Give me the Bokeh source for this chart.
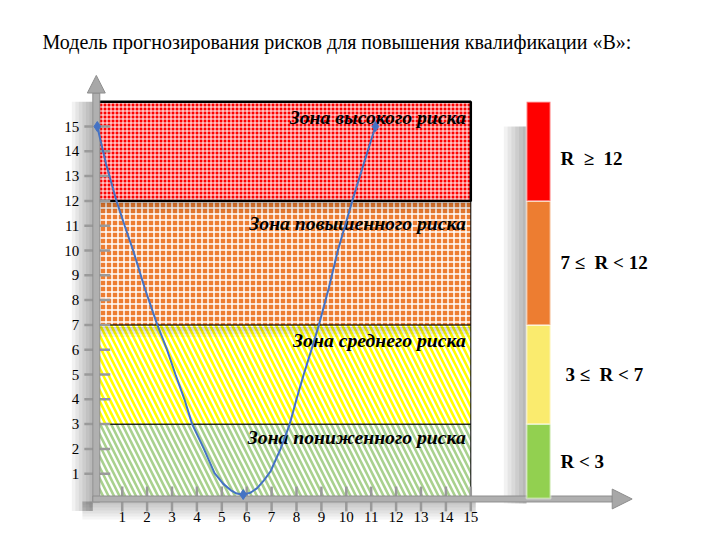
from bokeh.plotting import figure
from bokeh.models import ColumnDataSource
from bokeh.core.properties import value
from bokeh.embed import file_html
from bokeh.resources import INLINE

# ---------------- data ----------------
title_text = "Модель прогнозирования рисков для повышения квалификации «В»:"

zone_names = ["Зона пониженного риска", "Зона среднего риска",
              "Зона повышенного риска", "Зона высокого риска"]
zone_bottoms = [0, 3, 7, 12]
zone_tops = [3, 7, 12, 16]
zone_x_end = 15

NB = "\u00a0"
legend_texts = ["R < 3", "3 ≤" + NB + NB + "R < 7", "7 ≤" + NB + NB + "R < 12",
                "R" + NB + NB + "≥" + NB + NB + "12"]

x_tick_values = list(range(1, 16))
x_tick_labels = [str(v) for v in x_tick_values]
y_tick_values = list(range(1, 16))
y_tick_labels = [str(v) for v in y_tick_values]

curve_x = [0, 0.35, 0.77, 1.1, 1.44, 1.9, 2.41, 2.8, 3.14, 3.5, 3.81, 4.28, 4.71,
           5.05, 5.35, 5.6, 5.86, 6.15, 6.42, 6.7, 6.96, 7.36, 7.73,
           8.0, 8.29, 8.6, 8.90, 9.3, 9.66, 9.95, 10.24, 10.7, 11.17]
curve_y = [15, 13.5, 12, 11, 10, 8.5, 7, 6, 5, 4, 3, 2, 1.02,
           0.6, 0.34, 0.2, 0.16, 0.23, 0.42, 0.74, 1.1, 2, 3,
           4, 5, 6, 7, 8.5, 10, 11, 12, 13.5, 15]
marker_x = [0, 5.86, 11.17]
marker_y = [15, 0.16, 15]

# ---------------- styles ----------------
SERIF = value("Liberation Serif")
zone_fill = ["#FFFFFF", "#FFFFFF", "#ED7D31", "#FF0000"]
zone_hatch = ["left_diagonal_line", "left_diagonal_line", "cross", "cross"]
zone_hatch_color = ["#A9D18E", "#FFFF00", "#FFFFFF", "#FFFFFF"]
zone_hatch_scale = [11, 11, 6, 4]
zone_hatch_weight = [2.6, 2.6, 1.5, 1]
zone_line_width = [1, 1, 1, 2.5]
legend_colors = ["#92D050", "#FAEB6E", "#ED7D31", "#FF0000"]
legend_label_yoff = [0, 0, 0, 7]
legend_label_xoff = [0, 5, 0, 0]
zone_label_yoff = [-2, 0, 7, 0]

W, H = 684, 540
x0_px, y0_px = 96.8, 498.0       # pixel position of data origin in the canvas
sx, sy = 24.9, 24.8               # pixels per unit

p = figure(width=W, height=H, output_backend="svg", toolbar_location=None,
           x_range=(-x0_px / sx, (W - x0_px) / sx),
           y_range=((y0_px - H) / sy, y0_px / sy),
           x_axis_location=None, y_axis_location=None,
           min_border=0, outline_line_color=None)
p.xgrid.visible = False
p.ygrid.visible = False
p.background_fill_color = "white"
p.border_fill_color = "white"

px = 1.0 / sx   # one pixel in x data units
py = 1.0 / sy   # one pixel in y data units

# ---------------- shadows ----------------
for k in range(1, 7):
    p.quad(left=-0.18 - k * 3.5 * px, right=-0.18, bottom=-0.5, top=16.0,
           fill_color="black", fill_alpha=0.05, line_color=None)
    p.quad(left=-0.6, right=zone_x_end + 0.2, bottom=-0.12 - k * 3 * py, top=-0.12,
           fill_color="black", fill_alpha=0.04, line_color=None)
    p.quad(left=17.24 - k * 3.8 * px, right=17.24, bottom=-0.2, top=15.0,
           fill_color="black", fill_alpha=0.05, line_color=None)

# ---------------- zones ----------------
for i in range(len(zone_names)):
    p.quad(left=0, right=zone_x_end, bottom=zone_bottoms[i], top=zone_tops[i],
           fill_color=zone_fill[i], hatch_pattern=zone_hatch[i],
           hatch_color=zone_hatch_color[i], hatch_scale=zone_hatch_scale[i],
           hatch_weight=zone_hatch_weight[i],
           line_color="black", line_width=zone_line_width[i])

for b in [12, 7]:
    for k in range(1, 5):
        p.quad(left=0.1, right=zone_x_end, bottom=b - k * 3 * py, top=b - 2 * py,
               fill_color="black", fill_alpha=0.05, line_color=None)

zone_src = ColumnDataSource(dict(
    x=[zone_x_end - 0.2] * len(zone_names),
    y=[t - 0.6 for t in zone_tops],
    text=zone_names, yoff=zone_label_yoff))
p.text(x="x", y="y", text="text", source=zone_src, y_offset="yoff",
       text_font=SERIF, text_font_style="bold italic", text_font_size="19.7px",
       text_align="right", text_baseline="middle", text_color="black")

# ---------------- axes ----------------
AX_TOP = 16.35
X_END = 20.68
tick_col = "#9A9A9A"
p.segment(x0=[-0.52] * len(y_tick_values), x1=[0.52] * len(y_tick_values),
          y0=y_tick_values, y1=y_tick_values, line_color=tick_col, line_width=2.5)
p.segment(x0=x_tick_values, x1=x_tick_values,
          y0=[0.48] * len(x_tick_values), y1=[-0.52] * len(x_tick_values),
          line_color=tick_col, line_width=2.5)

p.quad(left=-0.18, right=0.1, bottom=-0.14, top=AX_TOP,
       fill_color="#B0B0B0", line_color="#8E8E8E", line_width=1)
p.quad(left=-0.18, right=X_END, bottom=-0.14, top=0.1,
       fill_color="#B0B0B0", line_color="#8E8E8E", line_width=1)
p.patch(x=[-0.4, 0.32, -0.04], y=[AX_TOP, AX_TOP, 17.06],
        fill_color="#A8A8A8", line_color="#8E8E8E", line_width=1)
p.patch(x=[X_END, X_END, 21.48], y=[-0.42, 0.38, -0.02],
        fill_color="#A8A8A8", line_color="#8E8E8E", line_width=1)

ytick_src = ColumnDataSource(dict(x=[-0.72] * len(y_tick_values),
                                  y=y_tick_values, text=y_tick_labels))
p.text(x="x", y="y", text="text", source=ytick_src, text_font=SERIF,
       text_font_size="15px", text_align="right", text_baseline="middle",
       text_color="black")
xtick_src = ColumnDataSource(dict(x=x_tick_values,
                                  y=[-0.56] * len(x_tick_values), text=x_tick_labels))
p.text(x="x", y="y", text="text", source=xtick_src, text_font=SERIF,
       text_font_size="15px", text_align="center", text_baseline="top",
       text_color="black")

# ---------------- curve ----------------
p.line(curve_x, curve_y, line_color="#4472C4", line_width=2)
p.scatter(marker_x, marker_y, marker="diamond", size=10,
          fill_color="#4472C4", line_color="#4472C4")

# ---------------- legend bar ----------------
p.quad(left=[17.24] * 4, right=[18.2] * 4, bottom=zone_bottoms, top=zone_tops,
       fill_color=legend_colors, line_color="white", line_alpha=0.45, line_width=2)
leg_src = ColumnDataSource(dict(
    x=[18.6] * 4,
    y=[(b + t) / 2 for b, t in zip(zone_bottoms, zone_tops)],
    text=legend_texts, yoff=legend_label_yoff, xoff=legend_label_xoff))
p.text(x="x", y="y", text="text", source=leg_src, x_offset="xoff", y_offset="yoff",
       text_font=SERIF, text_font_style="bold", text_font_size="19px",
       text_align="left", text_baseline="middle", text_color="black")

# ---------------- title ----------------
p.text(x=[-2.2], y=[18.39], text=[title_text], text_font=SERIF,
       text_font_size="20px", text_align="left", text_baseline="middle",
       text_color="black")

open("out.html", "w").write(file_html(p, INLINE))
